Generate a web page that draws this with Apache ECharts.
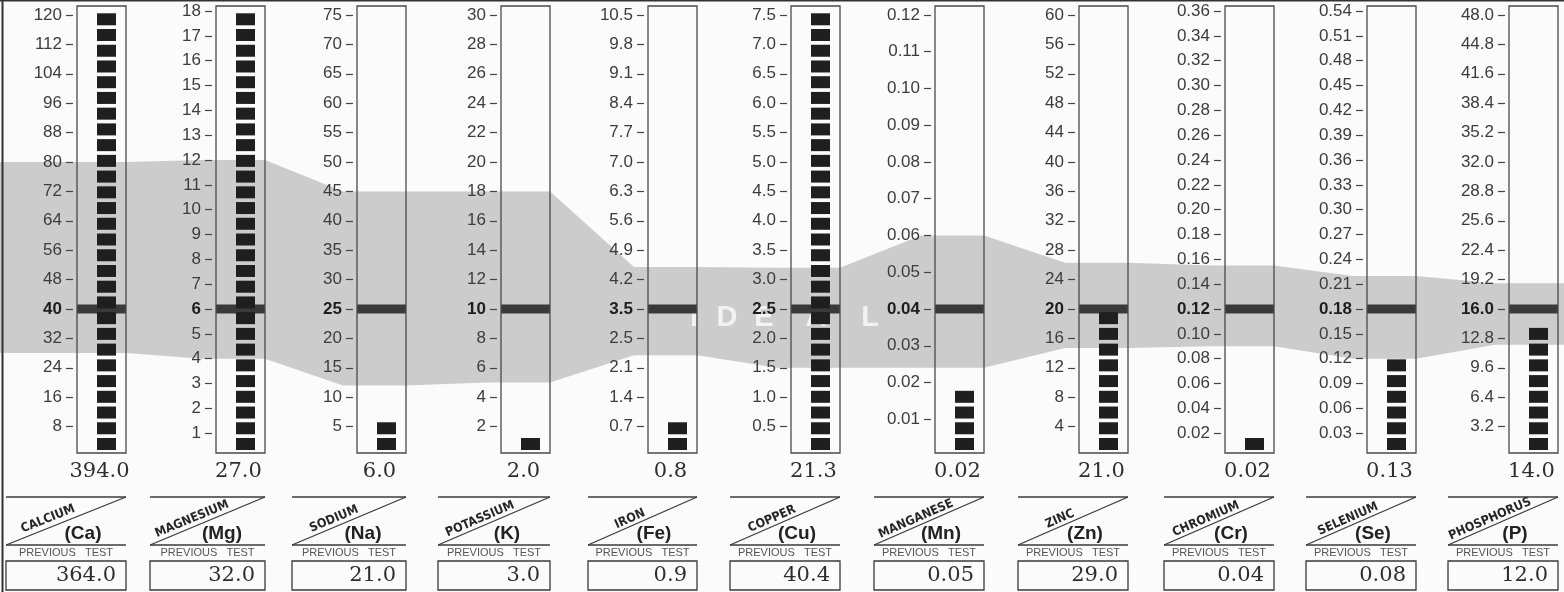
<!DOCTYPE html>
<html>
<head>
<meta charset="utf-8">
<script src="https://cdn.jsdelivr.net/npm/echarts@6/dist/echarts.min.js"></script>
<style>
  html, body { margin: 0; padding: 0; background: #fbfbfb; }
  #chart { width: 1564px; height: 592px; }
</style>
</head>
<body>
<div id="chart"></div>
<script>
// ---- Mineral panel data ----
const SYMBOLS = ['Ca', 'Mg', 'Na', 'K', 'Fe', 'Cu', 'Mn', 'Zn', 'Cr', 'Se', 'P'];
const NAMES = ['CALCIUM', 'MAGNESIUM', 'SODIUM', 'POTASSIUM', 'IRON', 'COPPER',
               'MANGANESE', 'ZINC', 'CHROMIUM', 'SELENIUM', 'PHOSPHORUS'];
const CURRENT = [394.0, 27.0, 6.0, 2.0, 0.8, 21.3, 0.02, 21.0, 0.02, 0.13, 14.0];
const PREVIOUS = [364.0, 32.0, 21.0, 3.0, 0.9, 40.4, 0.05, 29.0, 0.04, 0.08, 12.0];
const DECIMALS = [1, 1, 1, 1, 1, 1, 2, 1, 2, 2, 1];
const IDEAL = [40, 6, 25, 10, 3.5, 2.5, 0.04, 20, 0.12, 0.18, 16.0];
const IDEAL_LOW = [28, 4, 12, 5, 2.4, 1.5, 0.024, 14.7, 0.09, 0.12, 12.1];
const IDEAL_HIGH = [80, 12, 45, 18, 4.5, 3.2, 0.06, 26.3, 0.155, 0.22, 18.8];

const TICK_VALUES = [
  [8, 16, 24, 32, 40, 48, 56, 64, 72, 80, 88, 96, 104, 112, 120],
  [1, 2, 3, 4, 5, 6, 7, 8, 9, 10, 11, 12, 13, 14, 15, 16, 17, 18],
  [5, 10, 15, 20, 25, 30, 35, 40, 45, 50, 55, 60, 65, 70, 75],
  [2, 4, 6, 8, 10, 12, 14, 16, 18, 20, 22, 24, 26, 28, 30],
  [0.7, 1.4, 2.1, 2.8, 3.5, 4.2, 4.9, 5.6, 6.3, 7.0, 7.7, 8.4, 9.1, 9.8, 10.5],
  [0.5, 1.0, 1.5, 2.0, 2.5, 3.0, 3.5, 4.0, 4.5, 5.0, 5.5, 6.0, 6.5, 7.0, 7.5],
  [0.01, 0.02, 0.03, 0.04, 0.05, 0.06, 0.07, 0.08, 0.09, 0.10, 0.11, 0.12],
  [4, 8, 12, 16, 20, 24, 28, 32, 36, 40, 44, 48, 52, 56, 60],
  [0.02, 0.04, 0.06, 0.08, 0.10, 0.12, 0.14, 0.16, 0.18, 0.20, 0.22, 0.24, 0.26, 0.28, 0.30, 0.32, 0.34, 0.36],
  [0.03, 0.06, 0.09, 0.12, 0.15, 0.18, 0.21, 0.24, 0.27, 0.30, 0.33, 0.36, 0.39, 0.42, 0.45, 0.48, 0.51, 0.54],
  [3.2, 6.4, 9.6, 12.8, 16.0, 19.2, 22.4, 25.6, 28.8, 32.0, 35.2, 38.4, 41.6, 44.8, 48.0]
];
const TICK_LABELS = [
  ['8', '16', '24', '32', '40', '48', '56', '64', '72', '80', '88', '96', '104', '112', '120'],
  ['1', '2', '3', '4', '5', '6', '7', '8', '9', '10', '11', '12', '13', '14', '15', '16', '17', '18'],
  ['5', '10', '15', '20', '25', '30', '35', '40', '45', '50', '55', '60', '65', '70', '75'],
  ['2', '4', '6', '8', '10', '12', '14', '16', '18', '20', '22', '24', '26', '28', '30'],
  ['0.7', '1.4', '2.1', '2.5', '3.5', '4.2', '4.9', '5.6', '6.3', '7.0', '7.7', '8.4', '9.1', '9.8', '10.5'],
  ['0.5', '1.0', '1.5', '2.0', '2.5', '3.0', '3.5', '4.0', '4.5', '5.0', '5.5', '6.0', '6.5', '7.0', '7.5'],
  ['0.01', '0.02', '0.03', '0.04', '0.05', '0.06', '0.07', '0.08', '0.09', '0.10', '0.11', '0.12'],
  ['4', '8', '12', '16', '20', '24', '28', '32', '36', '40', '44', '48', '52', '56', '60'],
  ['0.02', '0.04', '0.06', '0.08', '0.10', '0.12', '0.14', '0.16', '0.18', '0.20', '0.22', '0.24', '0.26', '0.28', '0.30', '0.32', '0.34', '0.36'],
  ['0.03', '0.06', '0.09', '0.12', '0.15', '0.18', '0.21', '0.24', '0.27', '0.30', '0.33', '0.36', '0.39', '0.42', '0.45', '0.48', '0.51', '0.54'],
  ['3.2', '6.4', '9.6', '12.8', '16.0', '19.2', '22.4', '25.6', '28.8', '32.0', '35.2', '38.4', '41.6', '44.8', '48.0']
];

// ---- Layout ----
const W = 1564;
const TUBE_LEFT = [77, 216, 357, 501, 648, 791, 935, 1079, 1225, 1367, 1509];
const BOX_LEFT = [6, 150, 292, 438, 588, 730, 874, 1018, 1164, 1306, 1448];
const TUBE_W = 49;
const TUBE_TOP = 6, TUBE_BOTTOM = 453;
const IDEAL_Y = 309;          // every scale puts its ideal level on this row
const SQ_PERIOD = 15.73, SQ_H = 12, SQ_W = 19, SQ_SHIFT = 5;
const SANS = "'Liberation Sans', Arial, Helvetica, sans-serif";
const SERIF = "'DejaVu Serif', 'Liberation Serif', serif";
const NARROW = "'Liberation Sans Narrow', 'DejaVu Sans Condensed', 'Liberation Sans', sans-serif";

// Each tube's value range: ideal sits on IDEAL_Y, the top tick near the tube top.
const RANGES = TICK_VALUES.map((t, c) => {
  const top = t[t.length - 1];
  const topY = t.length >= 18 ? 11 : 15;
  const pxPerUnit = (IDEAL_Y - topY) / (top - IDEAL[c]);
  const zeroY = IDEAL_Y + IDEAL[c] * pxPerUnit;
  return { min: (zeroY - TUBE_BOTTOM) / pxPerUnit, max: (zeroY - TUBE_TOP) / pxPerUnit };
});

const grids = [], xAxes = [], yAxes = [], series = [];

SYMBOLS.forEach((sym, c) => {
  grids.push({
    left: TUBE_LEFT[c], top: TUBE_TOP, width: TUBE_W, height: TUBE_BOTTOM - TUBE_TOP,
    show: true, borderColor: '#4a4a4a', borderWidth: 1.3, backgroundColor: 'transparent', z: 4
  });
  xAxes.push({ type: 'category', gridIndex: c, data: [sym], show: false });
  yAxes.push({
    type: 'value', gridIndex: c, min: RANGES[c].min, max: RANGES[c].max, z: 4,
    offset: 4,
    axisLine: { show: false },
    splitLine: { show: false },
    axisTick: {
      show: true, inside: false, length: 7, customValues: TICK_VALUES[c],
      lineStyle: { color: '#444', width: 1.2 }
    },
    axisLabel: {
      show: true, margin: 11, customValues: TICK_VALUES[c],
      color: '#3c3c3c', fontSize: 17, fontFamily: SANS,
      formatter: (v) => {
        const i = TICK_VALUES[c].findIndex(t => Math.abs(t - v) < 1e-9);
        const label = i >= 0 ? TICK_LABELS[c][i] : '';
        return Math.abs(v - IDEAL[c]) < 1e-9 ? '{b|' + label + '}' : label;
      },
      rich: { b: { fontWeight: 'bold', color: '#1e1e1e', fontSize: 17, fontFamily: SANS } }
    }
  });
  series.push({
    type: 'custom', xAxisIndex: c, yAxisIndex: c, clip: false, z: 3,
    data: [[0, CURRENT[c], IDEAL[c]]],
    renderItem: (params, api) => {
      const value = api.value(1);
      const ideal = api.value(2);
      const cs = params.coordSys;
      const zero = api.coord([0, 0]);
      const valY = api.coord([0, value])[1];
      const bottomY = api.coord([0, RANGES[c].min])[1];
      const topY = api.coord([0, RANGES[c].max])[1];
      const idealY = api.coord([0, ideal])[1];
      const cx = zero[0] + SQ_SHIFT;
      // one square per full step of bar height, limited to what the tube holds
      const fit = Math.floor((bottomY - 3 - (topY + 7) + (SQ_PERIOD - SQ_H)) / SQ_PERIOD + 1e-6);
      const n = Math.min(fit, Math.floor((zero[1] - valY) / SQ_PERIOD + 1e-6));
      const children = [{
        type: 'rect',
        shape: { x: cs.x, y: idealY - 4.5, width: cs.width, height: 9 },
        style: { fill: '#3a3a3a' }
      }];
      for (let k = 0; k < n; k++) {
        children.push({
          type: 'rect',
          shape: { x: cx - SQ_W / 2, y: bottomY - 3 - k * SQ_PERIOD - SQ_H, width: SQ_W, height: SQ_H },
          style: { fill: '#1f1f1f' }
        });
      }
      children.push({
        type: 'text', x: zero[0] - 2, y: bottomY + 19,
        style: {
          text: value.toFixed(DECIMALS[c]), fill: '#2e2e2e', fontSize: 21, fontFamily: SERIF,
          align: 'center', verticalAlign: 'middle'
        }
      });
      return { type: 'group', children };
    }
  });
});

// Ideal-range band spanning all panels, in tube-height fractions.
const BAND = 11;
grids.push({ left: 0, right: 0, top: TUBE_TOP, height: TUBE_BOTTOM - TUBE_TOP, show: false });
xAxes.push({ type: 'value', gridIndex: BAND, min: 0, max: W, show: false });
yAxes.push({ type: 'value', gridIndex: BAND, min: 0, max: 1, show: false });
const frac = (c, v) => (v - RANGES[c].min) / (RANGES[c].max - RANGES[c].min);
series.push({
  type: 'custom', xAxisIndex: BAND, yAxisIndex: BAND, z: 1, silent: true,
  data: [[0, 0]],
  renderItem: (params, api) => {
    const top = [], bottom = [];
    SYMBOLS.forEach((s, c) => {
      const xs = c === 0 ? 0 : TUBE_LEFT[c] - 14;
      const xe = c === SYMBOLS.length - 1 ? W : TUBE_LEFT[c] + TUBE_W;
      const hi = frac(c, IDEAL_HIGH[c]), lo = frac(c, IDEAL_LOW[c]);
      top.push(api.coord([xs, hi]), api.coord([xe, hi]));
      bottom.push(api.coord([xs, lo]), api.coord([xe, lo]));
    });
    return {
      type: 'polygon',
      shape: { points: top.concat(bottom.reverse()) },
      style: { fill: '#cccccc' }
    };
  }
});

// Captions under each tube: element name, symbol, previous result.
const graphics = [];
const IDEAL_LETTERS = [['I', 694], ['D', 727], ['E', 764], ['A', 816], ['L', 870]];
IDEAL_LETTERS.forEach(([ch, x]) => graphics.push({
  type: 'text', x, y: 318, z: 2, silent: true,
  style: { text: ch, fill: '#f2f2f2', fontSize: 29, fontWeight: 'bold', fontFamily: SANS, align: 'center', verticalAlign: 'middle' }
}));
SYMBOLS.forEach((sym, c) => {
  const R = TUBE_LEFT[c] + TUBE_W;
  const L = BOX_LEFT[c];
  const line = { stroke: '#3a3a3a', lineWidth: 1.3 };
  graphics.push({ type: 'line', z: 5, shape: { x1: L, y1: 497, x2: R, y2: 497 }, style: line });
  graphics.push({ type: 'line', z: 5, shape: { x1: L, y1: 545, x2: R, y2: 497 }, style: line });
  graphics.push({ type: 'line', z: 5, shape: { x1: L, y1: 545, x2: R, y2: 545 }, style: line });
  graphics.push({
    type: 'text', z: 5, x: L + 42, y: 519, rotation: Math.atan2(48, R - L),
    style: { text: NAMES[c], fill: '#262626', fontSize: 12.5, fontWeight: 'bold', fontFamily: NARROW, align: 'center', verticalAlign: 'middle' }
  });
  graphics.push({
    type: 'text', z: 5, x: R - 43, y: 534,
    style: { text: '(' + sym + ')', fill: '#222', fontSize: 19, fontWeight: 'bold', fontFamily: SANS, align: 'center', verticalAlign: 'middle' }
  });
  graphics.push({
    type: 'text', z: 5, x: (L + R) / 2, y: 553,
    style: { text: 'PREVIOUS   TEST', fill: '#555', fontSize: 11, fontFamily: SANS, align: 'center', verticalAlign: 'middle' }
  });
  graphics.push({
    type: 'rect', z: 5, shape: { x: L, y: 561, width: R - L, height: 29 },
    style: { fill: 'transparent', stroke: '#3a3a3a', lineWidth: 1.3 }
  });
  graphics.push({
    type: 'text', z: 5, x: R - 10, y: 576,
    style: { text: PREVIOUS[c].toFixed(DECIMALS[c]), fill: '#2e2e2e', fontSize: 21, fontFamily: SERIF, align: 'right', verticalAlign: 'middle' }
  });
});
// page frame
graphics.push({ type: 'line', z: 6, shape: { x1: 2.5, y1: 0, x2: 2.5, y2: 592 }, style: { stroke: '#333', lineWidth: 2 } });
graphics.push({ type: 'line', z: 6, shape: { x1: 0, y1: 0.8, x2: W, y2: 0.8 }, style: { stroke: '#333', lineWidth: 1.6 } });

const chart = echarts.init(document.getElementById('chart'), null, { renderer: 'canvas' });
chart.setOption({
  backgroundColor: '#fbfbfb',
  animation: false,
  grid: grids,
  xAxis: xAxes,
  yAxis: yAxes,
  series,
  graphic: graphics
});
</script>
</body>
</html>
